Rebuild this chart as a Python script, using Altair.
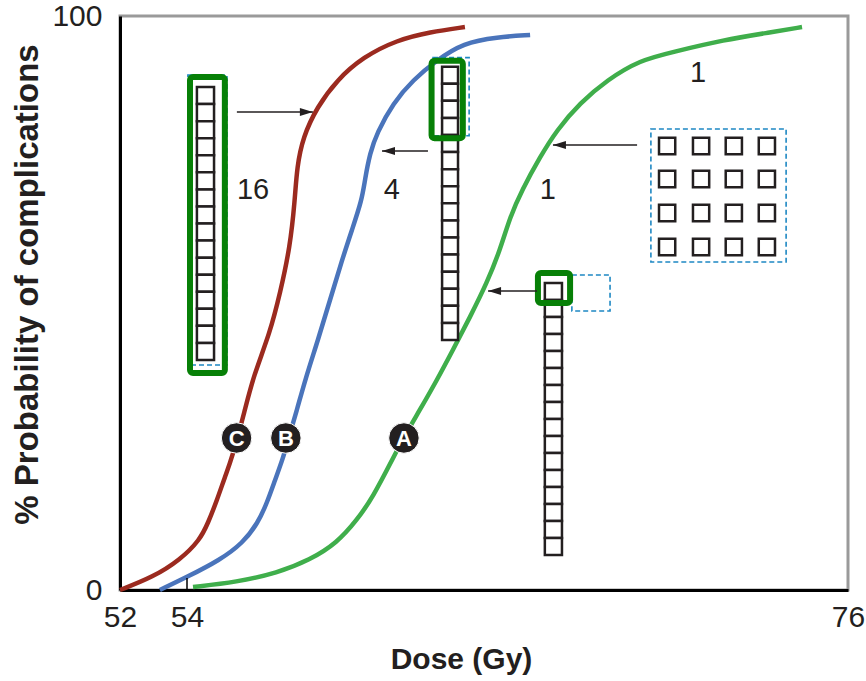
import altair as alt
import pandas as pd

# ---- dose-response curves (dose in Gy, probability in %) ----
dose_C = [52.0, 52.99, 53.79, 54.43, 54.70, 55.00, 55.26, 55.50, 55.93, 56.20, 56.76, 57.10, 57.43,
          57.59, 57.66, 57.86, 58.33, 58.99, 59.86, 60.99, 62.09, 63.25]
prob_C = [0.0, 2.26, 5.23, 8.71, 11.67, 15.68, 19.69, 23.0, 31.36, 37.11, 44.77, 51.74, 59.76,
          67.94, 73.69, 78.92, 84.15, 88.85, 92.86, 95.82, 97.21, 98.08]
dose_B = [53.19, 54.0, 55.10, 55.86, 56.36, 56.66, 56.93, 57.20, 57.36, 57.66, 57.93, 58.36, 58.76,
          59.16, 59.49, 59.82, 59.92, 60.09, 60.32, 60.86, 61.52, 62.32, 63.19, 64.32, 65.42]
prob_B = [0.0, 2.26, 5.23, 8.19, 11.67, 15.16, 19.16, 23.0, 26.13, 31.36, 36.59, 43.55, 50.52,
          57.49, 62.72, 67.94, 71.43, 76.13, 79.62, 84.84, 88.85, 92.33, 95.30, 96.34, 96.69]
dose_A = [54.20, 55.66, 57.00, 58.09, 58.99, 59.66, 60.19, 60.86, 61.22, 61.75, 62.32, 62.85, 63.42,
          63.98, 64.42, 64.75, 65.15, 65.75, 66.31, 67.08, 67.98, 69.08, 70.18, 71.84, 73.50, 74.47]
prob_A = [0.52, 1.39, 2.96, 5.23, 8.19, 12.20, 16.20, 23.0, 26.65, 31.36, 36.59, 41.81, 47.56,
          53.48, 59.23, 64.98, 69.69, 75.44, 80.14, 84.84, 88.85, 92.33, 93.73, 95.82, 97.21, 98.08]

curve_names = ["C", "B", "A"]
curve_colors = ["#9b2a1f", "#4a74bb", "#3fae4b"]

x_ticks = [52, 54, 76]
y_ticks = [0, 100]

# ---- schematic annotations (in data units) ----
# columns of 16 voxels: (x_left, x_right, y_top, y_bottom)
strip_left = [54.33, 62.49, 65.91]
strip_right = [54.90, 63.02, 66.48]
strip_top = [87.63, 91.17, 53.48]
strip_bottom = [40.07, 43.55, 6.10]
n_voxels = 16

# 4x4 grid of voxels
grid_x = [69.98, 71.11, 72.20, 73.30]
grid_y = [77.35, 71.60, 65.68, 59.76]
grid_half_x = 0.27
grid_half_y = 1.45

# green (irradiated) boxes
green_x1 = [54.10, 62.14, 65.68]
green_x2 = [55.26, 63.18, 66.75]
green_y1 = [89.37, 92.21, 55.23]
green_y2 = [37.80, 78.69, 50.00]

# blue dashed boxes
blue_x1 = [54.03, 62.19, 66.81, 69.44]
blue_x2 = [55.33, 63.39, 68.08, 73.94]
blue_y1 = [89.72, 92.74, 54.88, 80.31]
blue_y2 = [39.20, 79.15, 48.61, 57.14]

# arrows: start, tip, level
arrow_from = [55.66, 62.02, 65.65, 68.98]
arrow_to = [58.19, 60.49, 64.02, 66.18]
arrow_y = [83.27, 76.48, 52.09, 77.53]
arrow_dir = ["right", "left", "left", "left"]

# number labels
label_text = ["16", "4", "1", "1"]
label_x = [56.20, 60.82, 66.01, 71.01]
label_y = [69.69, 69.69, 69.69, 90.07]

# badges
badge_text = ["C", "B", "A"]
badge_x = [55.65, 57.29, 61.22]
badge_y = [26.48, 26.48, 26.48]

# ---- tables ----
rows = []
for name, xs_, ys_ in [("C", dose_C, prob_C), ("B", dose_B, prob_B), ("A", dose_A, prob_A)]:
    for a, b in zip(xs_, ys_):
        rows.append({"curve": name, "dose": a, "prob": b})
curves_df = pd.DataFrame(rows)

sq = []
for l, r, t, b in zip(strip_left, strip_right, strip_top, strip_bottom):
    h = (t - b) / n_voxels
    for i in range(n_voxels):
        sq.append({"x1": l, "x2": r, "y1": t - i * h, "y2": t - (i + 1) * h})
for gx in grid_x:
    for gy in grid_y:
        sq.append({"x1": gx - grid_half_x, "x2": gx + grid_half_x,
                   "y1": gy + grid_half_y, "y2": gy - grid_half_y})
squares_df = pd.DataFrame(sq)

green_df = pd.DataFrame({"x1": green_x1, "x2": green_x2, "y1": green_y1, "y2": green_y2})
blue_df = pd.DataFrame({"x1": blue_x1, "x2": blue_x2, "y1": blue_y1, "y2": blue_y2})
arrows_df = pd.DataFrame({"x1": arrow_from, "x2": arrow_to, "y": arrow_y, "dir": arrow_dir})
labels_df = pd.DataFrame({"t": label_text, "x": label_x, "y": label_y})
badges_df = pd.DataFrame({"t": badge_text, "x": badge_x, "y": badge_y})
tick_df = pd.DataFrame({"x": [54], "y1": [0], "y2": [2.1]})

FONT = "Liberation Sans"
INK = "#231f20"

xs = alt.Scale(domain=[52, 54, 76], range=[0, 67, 728], nice=False, zero=False)
ys = alt.Scale(domain=[0, 100], nice=False, zero=False)

X = lambda f: alt.X(f, type="quantitative", scale=xs)
Y = lambda f: alt.Y(f, type="quantitative", scale=ys)

curves = alt.Chart(curves_df).mark_line(strokeWidth=4.5, interpolate="basis", strokeCap="butt").encode(
    x=alt.X("dose:Q", scale=xs,
            axis=alt.Axis(values=x_ticks, title="Dose (Gy)", labelFontSize=30, labelFont=FONT,
                          labelColor=INK, ticks=False, labelPadding=12, domainColor="black",
                          domainWidth=3, grid=False, titleFont=FONT, titleFontSize=30,
                          titleFontWeight="bold", titleColor=INK, titlePadding=12,
                          titleX=341, labelFlush=False)),
    y=alt.Y("prob:Q", scale=ys,
            axis=alt.Axis(values=y_ticks, title="% Probability of complications", labelFontSize=30,
                          labelFont=FONT, labelColor=INK, ticks=False, labelPadding=18,
                          domainColor="black", domainWidth=3, grid=False, titleFont=FONT,
                          titleFontSize=33, titleFontWeight="bold", titleColor=INK,
                          titleX=-76, titleY=268, titleBaseline="bottom", labelFlush=False)),
    color=alt.Color("curve:N", scale=alt.Scale(domain=curve_names, range=curve_colors), legend=None),
    detail="curve:N",
)

tick54 = alt.Chart(tick_df).mark_rule(color="black", strokeWidth=1.5).encode(
    x=X("x"), y=Y("y1"), y2="y2")

blue_boxes = alt.Chart(blue_df).mark_rect(fill="transparent", stroke="#1e88c3", strokeWidth=1.6,
                                          strokeDash=[5, 3]).encode(
    x=X("x1"), x2="x2", y=Y("y1"), y2="y2")

squares = alt.Chart(squares_df).mark_rect(fill="white", stroke=INK, strokeWidth=2.5).encode(
    x=X("x1"), x2="x2", y=Y("y1"), y2="y2")

green_boxes = alt.Chart(green_df).mark_rect(fill="transparent", stroke="#078007", strokeWidth=6,
                                            cornerRadius=3).encode(
    x=X("x1"), x2="x2", y=Y("y1"), y2="y2")

shafts = alt.Chart(arrows_df).mark_rule(color=INK, strokeWidth=1.5).encode(
    x=X("x1"), x2="x2", y=Y("y"))

head_r = alt.Chart(arrows_df).transform_filter(alt.datum.dir == "right").mark_point(
    shape="M1,0L-1,-0.62L-1,0.62Z", filled=True, color=INK, size=169, opacity=1, xOffset=-6.5
).encode(x=X("x2"), y=Y("y"))
head_l = alt.Chart(arrows_df).transform_filter(alt.datum.dir == "left").mark_point(
    shape="M-1,0L1,-0.62L1,0.62Z", filled=True, color=INK, size=169, opacity=1, xOffset=6.5
).encode(x=X("x2"), y=Y("y"))

labels = alt.Chart(labels_df).mark_text(font=FONT, fontSize=29, color=INK, align="center",
                                        baseline="middle").encode(
    x=X("x"), y=Y("y"), text="t:N")

badge_c = alt.Chart(badges_df).mark_circle(size=930, color=INK, opacity=1, stroke="white",
                                           strokeWidth=1).encode(x=X("x"), y=Y("y"))
badge_t = alt.Chart(badges_df).mark_text(font=FONT, fontSize=22, fontWeight="bold", color="white",
                                         align="center", baseline="middle", dy=1).encode(
    x=X("x"), y=Y("y"), text="t:N")

chart = alt.layer(
    curves, tick54, blue_boxes, squares, green_boxes, shafts, head_r, head_l, labels, badge_c, badge_t
).properties(
    width=728, height=574,
    autosize=alt.AutoSizeParams(type="none"),
    padding={"left": 120, "top": 16, "right": 18, "bottom": 91},
    background="white",
).configure_view(
    stroke="#9a9a9a", strokeWidth=3
)

chart.save("out.html", embed_options={"renderer": "svg", "actions": False})
